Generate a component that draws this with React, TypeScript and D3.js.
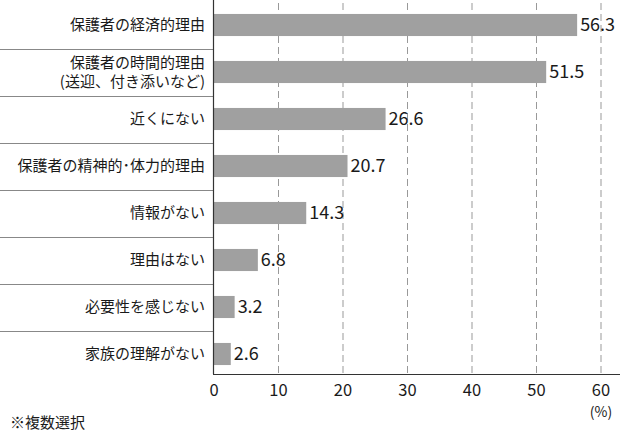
import React from "react";
import * as d3 from "d3";

const categories: string[][] = [
  ["保護者の経済的理由"],
  ["保護者の時間的理由", "(送迎、付き添いなど)"],
  ["近くにない"],
  ["保護者の精神的･体力的理由"],
  ["情報がない"],
  ["理由はない"],
  ["必要性を感じない"],
  ["家族の理解がない"],
];
const values: number[] = [56.3, 51.5, 26.6, 20.7, 14.3, 6.8, 3.2, 2.6];
const ticks: number[] = [0, 10, 20, 30, 40, 50, 60];

const W = 640;
const H = 444;
const font = "'Noto Sans CJK JP', 'Noto Sans', sans-serif";

export default function App() {
  const x = d3.scaleLinear().domain([0, 60]).range([214, 601]);
  const y = d3
    .scaleBand<number>()
    .domain(d3.range(categories.length))
    .range([1.5, 377.5])
    .paddingInner(0.53)
    .paddingOuter(0.265);
  const step = y.step();
  return (
    <svg
      width={W}
      height={H}
      style={{ position: "absolute", left: 0, top: 0, background: "#fff" }}
      fontFamily={font}
    >
      {ticks.slice(1).map((t) => (
        <line
          key={"g" + t}
          x1={x(t)}
          x2={x(t)}
          y1={3}
          y2={374}
          stroke="#999"
          strokeWidth={1}
          strokeDasharray="7,4"
        />
      ))}
      {categories.slice(1).map((_, i) => {
        const yy = Math.round(y(i + 1)! - (step - y.bandwidth()) / 2) + 0.5;
        return (
          <line key={"s" + i} x1={0} x2={213} y1={yy} y2={yy} stroke="#888" strokeWidth={1} />
        );
      })}
      {values.map((v, i) => (
        <rect
          key={"b" + i}
          x={x(0)}
          y={y(i)}
          width={x(v) - x(0)}
          height={y.bandwidth()}
          fill="#a0a0a0"
        />
      ))}
      {values.map((v, i) => (
        <text
          key={"v" + i}
          x={x(v) + 3}
          y={y(i)! + y.bandwidth() / 2}
          dy="0.36em"
          fontSize={18}
          fill="#1a1a1a"
        >
          {v.toFixed(1)}
        </text>
      ))}
      {categories.map((c, i) => {
        const cy = y(i)! + y.bandwidth() / 2;
        return (
          <text key={"c" + i} x={205} textAnchor="end" fontSize={15} fill="#1a1a1a">
            {c.map((line, j) => (
              <tspan key={j} x={205} y={cy + (j - (c.length - 1) / 2) * 19} dy="0.36em">
                {line}
              </tspan>
            ))}
          </text>
        );
      })}
      <line x1={213.5} x2={213.5} y1={0} y2={374} stroke="#333" strokeWidth={1.2} />
      <line x1={213} x2={620} y1={374.5} y2={374.5} stroke="#333" strokeWidth={1.2} />
      {ticks.map((t) => (
        <text
          key={"t" + t}
          x={x(t)}
          y={390}
          dy="0.36em"
          textAnchor="middle"
          fontSize={16.5}
          fill="#1a1a1a"
        >
          {t}
        </text>
      ))}
      <text x={x(60)} y={411.5} dy="0.36em" textAnchor="middle" fontSize={14} fill="#1a1a1a">
        (%)
      </text>
      <text x={10} y={423} dy="0.36em" fontSize={15} fill="#1a1a1a">
        ※複数選択
      </text>
    </svg>
  );
}
